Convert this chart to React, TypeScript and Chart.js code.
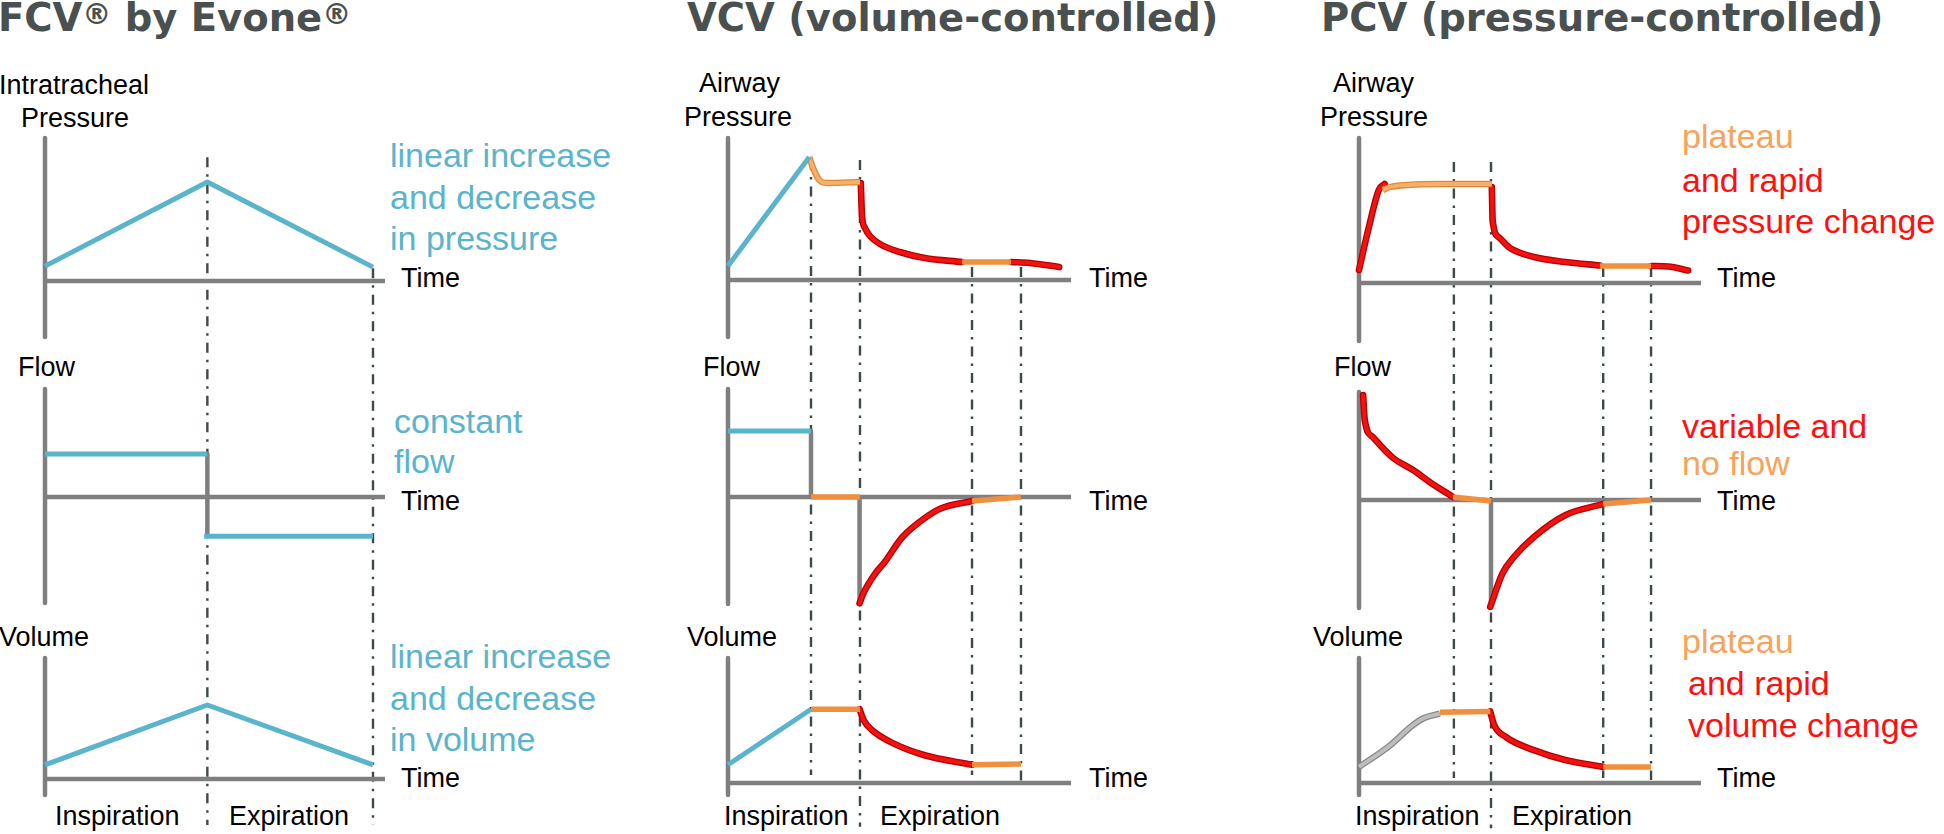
import React, { useEffect, useRef } from 'react';
import { Chart, registerables } from 'chart.js';
Chart.register(...registerables);

type Pt = [number, number];

// ---------------- DATA (time in s, arbitrary units) ----------------
// FCV by Evone
const fcvPressure: Pt[] = [[0, 1.5], [0.99, 10], [2.0, 1.4]];
const fcvFlowInsp: Pt[] = [[0, 10], [0.99, 10]];
const fcvFlowSwitch: Pt[] = [[0.99, 10], [0.99, -8.6]];
const fcvFlowExp: Pt[] = [[0.97, -9.1], [2.0, -9.1]];
const fcvVolume: Pt[] = [[0, 1.9], [0.99, 10], [2.0, 1.9]];
const fcvPhases: number[] = [0.99, 2.0];

// VCV
const vcvPressureRise: Pt[] = [[0, 2.8], [0.98, 24.6]];
const vcvPressurePause: Pt[] = [[0.98, 24.6], [1.02, 22.6], [1.1, 20.0], [1.19, 19.4], [1.59, 19.6]];
const vcvPressureFall: Pt[] = [[1.6, 19.4], [1.614, 13], [1.65, 10.4], [1.71, 8.8], [1.83, 7.2], [2.07, 5.6], [2.37, 4.4], [2.82, 3.6]];
const vcvPressureEnd: Pt[] = [[2.82, 3.6], [3.41, 3.6]];
const vcvPressureTail: Pt[] = [[3.41, 3.6], [3.64, 3.4], [3.99, 2.6]];
const vcvFlowInsp: Pt[] = [[0, 10], [1.0, 10]];
const vcvFlowStop: Pt[] = [[1.0, 10], [1.0, 0]];
const vcvFlowPause: Pt[] = [[1.0, 0], [1.59, 0]];
const vcvFlowRelease: Pt[] = [[1.585, 0], [1.585, -16.1]];
const vcvFlowExp: Pt[] = [[1.585, -16.1], [1.635, -14.5], [1.78, -11.5], [1.88, -10.0], [2.1, -6.1], [2.37, -3.2], [2.57, -1.7], [2.94, -0.6]];
const vcvFlowEnd: Pt[] = [[2.94, -0.6], [3.53, 0]];
const vcvVolumeInsp: Pt[] = [[0, 2.5], [1.0, 10.1]];
const vcvVolumePause: Pt[] = [[1.0, 10.1], [1.59, 10.1]];
const vcvVolumeExp: Pt[] = [[1.585, 10.1], [1.635, 8.6], [1.73, 7.3], [1.98, 5.5], [2.37, 3.8], [2.94, 2.5]];
const vcvVolumeEnd: Pt[] = [[2.94, 2.5], [3.53, 2.6]];
const vcvPhases: number[] = [1.0, 1.59, 2.94, 3.53];

// PCV
const pcvPressureRise: Pt[] = [[0, 2.6], [0.12, 11.2], [0.24, 18.6], [0.31, 19.8]];
const pcvPressureHold: Pt[] = [[0.29, 18.6], [0.38, 19.2], [0.59, 19.6], [0.98, 19.8], [1.61, 19.8]];
const pcvPressureFall: Pt[] = [[1.61, 19.2], [1.62, 12.6], [1.69, 9.2], [1.83, 7.0], [2.12, 5.2], [2.5, 4.2], [2.92, 3.5]];
const pcvPressureEnd: Pt[] = [[2.92, 3.4], [3.54, 3.4]];
const pcvPressureTail: Pt[] = [[3.54, 3.4], [3.75, 3.3], [3.99, 2.5]];
const pcvFlowInsp: Pt[] = [[0.05, 15.9], [0.07, 12.1], [0.17, 9.5], [0.41, 6.4], [0.66, 4.5], [0.86, 2.7], [1.14, 0.45]];
const pcvFlowPause: Pt[] = [[1.14, 0.45], [1.6, -0.15]];
const pcvFlowRelease: Pt[] = [[1.6, 0], [1.6, -16.2]];
const pcvFlowExp: Pt[] = [[1.59, -16.2], [1.74, -11.1], [1.88, -8.6], [2.12, -5.6], [2.5, -2.3], [2.96, -0.6]];
const pcvFlowEnd: Pt[] = [[2.96, -0.6], [3.54, 0]];
const pcvVolumeInsp: Pt[] = [[0, 2.2], [0.36, 5.0], [0.65, 7.9], [0.79, 8.9], [0.98, 9.5]];
const pcvVolumePause: Pt[] = [[0.98, 9.7], [1.59, 9.8]];
const pcvVolumeExp: Pt[] = [[1.59, 9.8], [1.64, 7.9], [1.78, 6.3], [2.12, 4.5], [2.5, 3.15], [2.96, 2.2]];
const pcvVolumeEnd: Pt[] = [[2.96, 2.2], [3.54, 2.2]];
const pcvPhases: number[] = [1.15, 1.6, 2.96, 3.54];

// ---------------- STYLE / LAYOUT ----------------
const H = 834;
const AXIS = '#7f7f7f';
const BLUE = '#5ab4cb';
const DASH = '#3e4a4a';
const TEXT_BLUE = '#5ab4cb';
const TEXT_RED = '#ff0f0f';
const TEXT_ORANGE = '#f7a35c';
const TITLE = '#4a504f';
const SANS = '"Liberation Sans", Arial, Helvetica, sans-serif';
const TITLE_FONT = '"DejaVu Sans", Verdana, sans-serif';

type StyleKey = 'blue' | 'red' | 'orange' | 'plateau' | 'silver' | 'axis';
const STYLES: Record<StyleKey, { color: string; width: number; under?: string; underWidth?: number; curve?: boolean; cap?: string }> = {
  blue: { color: BLUE, width: 5 },
  red: { color: '#f21212', width: 4, under: '#b50000', underWidth: 6.6, curve: true, cap: 'round' },
  orange: { color: '#f0903f', width: 5.5 },
  plateau: { color: '#f7b06a', width: 3.8, under: '#de8a3c', underWidth: 6.4, curve: true },
  silver: { color: '#bdbdbd', width: 3.8, under: '#8a8a8a', underWidth: 6.4, curve: true },
  axis: { color: AXIS, width: 4.5 },
};

type Panel = 'P' | 'F' | 'V';
interface PanelMap { axis: number; ppu: number; span: [number, number] }
interface ColLayout { left: number; width: number; t0: number; pxPerT: number; tEnd: number; P: PanelMap; F: PanelMap; V: PanelMap }
interface Series { data: Pt[]; panel: Panel; style: StyleKey }
interface Marker { t: number; from: [Panel, number]; to: [Panel, number] }

const layouts: ColLayout[] = [
  { left: 0, width: 400, t0: 45, pxPerT: 164, tEnd: 2.073,
    P: { axis: 281, ppu: 9.9, span: [138, 337] },
    F: { axis: 497, ppu: 4.3, span: [389, 603] },
    V: { axis: 779, ppu: 7.4, span: [658, 795] } },
  { left: 680, width: 400, t0: 728, pxPerT: 83, tEnd: 4.133,
    P: { axis: 280, ppu: 5, span: [138, 337] },
    F: { axis: 497, ppu: 6.6, span: [389, 604] },
    V: { axis: 783, ppu: 7.3, span: [658, 795] } },
  { left: 1330, width: 380, t0: 1359, pxPerT: 82.5, tEnd: 4.145,
    P: { axis: 283, ppu: 5, span: [138, 341] },
    F: { axis: 500, ppu: 6.6, span: [392, 608] },
    V: { axis: 783, ppu: 7.3, span: [658, 795] } },
];

const fcvSeries: Series[] = [
  { data: fcvPressure, panel: 'P', style: 'blue' },
  { data: fcvFlowInsp, panel: 'F', style: 'blue' },
  { data: fcvFlowExp, panel: 'F', style: 'blue' },
  { data: fcvFlowSwitch, panel: 'F', style: 'axis' },
  { data: fcvVolume, panel: 'V', style: 'blue' },
];
const vcvSeries: Series[] = [
  { data: vcvPressureRise, panel: 'P', style: 'blue' },
  { data: vcvPressurePause, panel: 'P', style: 'plateau' },
  { data: vcvPressureEnd, panel: 'P', style: 'orange' },
  { data: vcvPressureFall, panel: 'P', style: 'red' },
  { data: vcvPressureTail, panel: 'P', style: 'red' },
  { data: vcvFlowInsp, panel: 'F', style: 'blue' },
  { data: vcvFlowPause, panel: 'F', style: 'orange' },
  { data: vcvFlowEnd, panel: 'F', style: 'orange' },
  { data: vcvFlowExp, panel: 'F', style: 'red' },
  { data: vcvFlowStop, panel: 'F', style: 'axis' },
  { data: vcvFlowRelease, panel: 'F', style: 'axis' },
  { data: vcvVolumeInsp, panel: 'V', style: 'blue' },
  { data: vcvVolumePause, panel: 'V', style: 'orange' },
  { data: vcvVolumeEnd, panel: 'V', style: 'orange' },
  { data: vcvVolumeExp, panel: 'V', style: 'red' },
];
const pcvSeries: Series[] = [
  { data: pcvPressureHold, panel: 'P', style: 'plateau' },
  { data: pcvPressureRise, panel: 'P', style: 'red' },
  { data: pcvPressureEnd, panel: 'P', style: 'orange' },
  { data: pcvPressureFall, panel: 'P', style: 'red' },
  { data: pcvPressureTail, panel: 'P', style: 'red' },
  { data: pcvFlowPause, panel: 'F', style: 'orange' },
  { data: pcvFlowEnd, panel: 'F', style: 'orange' },
  { data: pcvFlowInsp, panel: 'F', style: 'red' },
  { data: pcvFlowExp, panel: 'F', style: 'red' },
  { data: pcvFlowRelease, panel: 'F', style: 'axis' },
  { data: pcvVolumePause, panel: 'V', style: 'orange' },
  { data: pcvVolumeEnd, panel: 'V', style: 'orange' },
  { data: pcvVolumeInsp, panel: 'V', style: 'silver' },
  { data: pcvVolumeExp, panel: 'V', style: 'red' },
];

const fcvMarkers: Marker[] = [
  { t: fcvPhases[0], from: ['P', 12.5], to: ['V', -6.2] },
  { t: fcvPhases[1], from: ['P', 1.3], to: ['V', -6.2] },
];
const vcvMarkers: Marker[] = [
  { t: vcvPhases[0], from: ['P', 24], to: ['V', 1.1] },
  { t: vcvPhases[1], from: ['P', 24], to: ['V', -6.0] },
  { t: vcvPhases[2], from: ['P', 2.6], to: ['V', 1.1] },
  { t: vcvPhases[3], from: ['P', 2.6], to: ['V', -0.55] },
];
const pcvMarkers: Marker[] = [
  { t: pcvPhases[0], from: ['P', 24.2], to: ['V', 0.7] },
  { t: pcvPhases[1], from: ['P', 24.2], to: ['V', -6.2] },
  { t: pcvPhases[2], from: ['P', 3.2], to: ['V', 0.7] },
  { t: pcvPhases[3], from: ['P', 3.2], to: ['V', 0.4] },
];

const toXY = (d: Pt[]) => d.map(([x, y]) => ({ x, y }));

function makeLine(data: Pt[], panel: Panel, color: string, width: number, curve: boolean, cap: string) {
  return {
    data: toXY(data),
    yAxisID: 'y' + panel,
    xAxisID: 'x',
    borderColor: color,
    borderWidth: width,
    pointRadius: 0,
    fill: false,
    tension: curve ? 0.4 : 0,
    cubicInterpolationMode: curve ? 'monotone' : 'default',
    borderCapStyle: cap,
    borderJoinStyle: 'round',
  };
}

function markerPlugin(markers: Marker[]) {
  return {
    id: 'phaseMarkers',
    beforeDatasetsDraw(chart: any) {
      const ctx = chart.ctx;
      const xs = chart.scales.x;
      ctx.save();
      ctx.strokeStyle = DASH;
      ctx.lineWidth = 2.4;
      ctx.setLineDash([10, 7, 2.5, 7]);
      for (const m of markers) {
        const px = xs.getPixelForValue(m.t);
        const y1 = chart.scales['y' + m.from[0]].getPixelForValue(m.from[1]);
        const y2 = chart.scales['y' + m.to[0]].getPixelForValue(m.to[1]);
        ctx.beginPath();
        ctx.moveTo(px, y1);
        ctx.lineTo(px, y2);
        ctx.stroke();
      }
      ctx.restore();
    },
  };
}

function ColumnChart({ layout, series, markers }: { layout: ColLayout; series: Series[]; markers: Marker[] }) {
  const ref = useRef<HTMLCanvasElement>(null);
  useEffect(() => {
    const L = layout;
    const yScale = (p: PanelMap) => ({ type: 'linear', display: false, min: (p.axis - H) / p.ppu, max: p.axis / p.ppu });
    const val = (p: PanelMap, px: number) => (p.axis - px) / p.ppu;
    const datasets: any[] = [];
    for (const s of series) {
      const st = STYLES[s.style];
      datasets.push(makeLine(s.data, s.panel, st.color, st.width, !!st.curve, st.cap || 'butt'));
      if (st.under) datasets.push(makeLine(s.data, s.panel, st.under, st.underWidth || st.width, !!st.curve, st.cap || 'butt'));
    }
    (['P', 'F', 'V'] as Panel[]).forEach((k) => {
      const p = L[k];
      datasets.push(makeLine([[0, 0], [L.tEnd, 0]], k, AXIS, 4.5, false, 'butt'));
      datasets.push(makeLine([[0, val(p, p.span[0])], [0, val(p, p.span[1])]], k, AXIS, 4.5, false, 'butt'));
    });
    const chart = new Chart(ref.current as HTMLCanvasElement, {
      type: 'line',
      data: { datasets },
      options: {
        animation: false,
        responsive: false,
        events: [],
        layout: { padding: 0 },
        plugins: { legend: { display: false }, tooltip: { enabled: false } },
        scales: {
          x: { type: 'linear', display: false, min: (L.left - L.t0) / L.pxPerT, max: (L.left + L.width - L.t0) / L.pxPerT },
          yP: yScale(L.P),
          yF: yScale(L.F),
          yV: yScale(L.V),
        },
      } as any,
      plugins: [markerPlugin(markers)],
    } as any);
    return () => chart.destroy();
  }, []);
  return (
    <canvas
      ref={ref}
      width={layout.width}
      height={H}
      style={{ position: 'absolute', left: layout.left, top: 0, width: layout.width, height: H }}
    />
  );
}

function Txt({ x, b, size, color, family, weight, children }: any) {
  return (
    <div
      style={{
        position: 'absolute',
        left: x,
        top: b - 0.846 * size,
        fontSize: size,
        lineHeight: 1,
        fontFamily: family || SANS,
        fontWeight: weight || 'normal',
        color: color || '#000',
        whiteSpace: 'nowrap',
      }}
    >
      {children}
    </div>
  );
}

const Reg = () => (
  <span style={{ fontSize: 29, verticalAlign: 'top', position: 'relative', top: 1 }}>®</span>
);

// text content
const titles = ['FCV', 'by Evone', 'VCV (volume-controlled)', 'PCV (pressure-controlled)'];
const axisLabels = ['Intratracheal', 'Pressure', 'Airway', 'Flow', 'Volume', 'Time', 'Inspiration', 'Expiration'];
const fcvNotes = { pressure: ['linear increase', 'and decrease', 'in pressure'], flow: ['constant', 'flow'], volume: ['linear increase', 'and decrease', 'in volume'] };
const pcvNotes = { pressure: ['plateau', 'and rapid', 'pressure change'], flow: ['variable and', 'no flow'], volume: ['plateau', 'and rapid', 'volume change'] };

export default function App() {
  const TS = 38.5;
  const LS = 27;
  const NS = 34;
  return (
    <div style={{ position: 'absolute', left: 0, top: 0, width: 1944, height: H, background: '#fff', overflow: 'hidden' }}>
      {/* titles */}
      <Txt x={-2} b={32} size={TS} color={TITLE} family={TITLE_FONT} weight="bold">
        {titles[0]}<Reg /> {titles[1]}<Reg />
      </Txt>
      <Txt x={687} b={32} size={TS} color={TITLE} family={TITLE_FONT} weight="bold">{titles[2]}</Txt>
      <Txt x={1321} b={32} size={TS} color={TITLE} family={TITLE_FONT} weight="bold">{titles[3]}</Txt>

      {/* column 1 labels */}
      <Txt x={-1} b={94.5} size={LS}>{axisLabels[0]}</Txt>
      <Txt x={21} b={127.5} size={LS}>{axisLabels[1]}</Txt>
      <Txt x={18} b={377} size={LS}>{axisLabels[3]}</Txt>
      <Txt x={-1} b={647} size={LS}>{axisLabels[4]}</Txt>
      <Txt x={401} b={288} size={LS}>{axisLabels[5]}</Txt>
      <Txt x={401} b={511} size={LS}>{axisLabels[5]}</Txt>
      <Txt x={401} b={788} size={LS}>{axisLabels[5]}</Txt>
      <Txt x={55} b={826} size={LS}>{axisLabels[6]}</Txt>
      <Txt x={229} b={826} size={LS}>{axisLabels[7]}</Txt>
      {fcvNotes.pressure.map((s, i) => <Txt key={'fp' + i} x={390} b={167 + i * 41.5} size={NS} color={TEXT_BLUE}>{s}</Txt>)}
      {fcvNotes.flow.map((s, i) => <Txt key={'ff' + i} x={394} b={433 + i * 40} size={NS} color={TEXT_BLUE}>{s}</Txt>)}
      {fcvNotes.volume.map((s, i) => <Txt key={'fv' + i} x={390} b={668 + i * 41.5} size={NS} color={TEXT_BLUE}>{s}</Txt>)}

      {/* column 2 labels */}
      <Txt x={699} b={93} size={LS}>{axisLabels[2]}</Txt>
      <Txt x={684} b={127} size={LS}>{axisLabels[1]}</Txt>
      <Txt x={703} b={377} size={LS}>{axisLabels[3]}</Txt>
      <Txt x={687} b={647} size={LS}>{axisLabels[4]}</Txt>
      <Txt x={1089} b={288} size={LS}>{axisLabels[5]}</Txt>
      <Txt x={1089} b={511} size={LS}>{axisLabels[5]}</Txt>
      <Txt x={1089} b={788} size={LS}>{axisLabels[5]}</Txt>
      <Txt x={724} b={826} size={LS}>{axisLabels[6]}</Txt>
      <Txt x={880} b={826} size={LS}>{axisLabels[7]}</Txt>

      {/* column 3 labels */}
      <Txt x={1333} b={93} size={LS}>{axisLabels[2]}</Txt>
      <Txt x={1320} b={127} size={LS}>{axisLabels[1]}</Txt>
      <Txt x={1334} b={377} size={LS}>{axisLabels[3]}</Txt>
      <Txt x={1313} b={647} size={LS}>{axisLabels[4]}</Txt>
      <Txt x={1717} b={288} size={LS}>{axisLabels[5]}</Txt>
      <Txt x={1717} b={511} size={LS}>{axisLabels[5]}</Txt>
      <Txt x={1717} b={788} size={LS}>{axisLabels[5]}</Txt>
      <Txt x={1355} b={826} size={LS}>{axisLabels[6]}</Txt>
      <Txt x={1512} b={826} size={LS}>{axisLabels[7]}</Txt>
      <Txt x={1682} b={148} size={NS} color={TEXT_ORANGE}>{pcvNotes.pressure[0]}</Txt>
      <Txt x={1682} b={192} size={NS} color={TEXT_RED}>{pcvNotes.pressure[1]}</Txt>
      <Txt x={1682} b={233} size={NS} color={TEXT_RED}>{pcvNotes.pressure[2]}</Txt>
      <Txt x={1682} b={438} size={NS} color={TEXT_RED}>{pcvNotes.flow[0]}</Txt>
      <Txt x={1682} b={475} size={NS} color={TEXT_ORANGE}>{pcvNotes.flow[1]}</Txt>
      <Txt x={1682} b={653} size={NS} color={TEXT_ORANGE}>{pcvNotes.volume[0]}</Txt>
      <Txt x={1688} b={695} size={NS} color={TEXT_RED}>{pcvNotes.volume[1]}</Txt>
      <Txt x={1688} b={737} size={NS} color={TEXT_RED}>{pcvNotes.volume[2]}</Txt>

      <ColumnChart layout={layouts[0]} series={fcvSeries} markers={fcvMarkers} />
      <ColumnChart layout={layouts[1]} series={vcvSeries} markers={vcvMarkers} />
      <ColumnChart layout={layouts[2]} series={pcvSeries} markers={pcvMarkers} />
    </div>
  );
}
